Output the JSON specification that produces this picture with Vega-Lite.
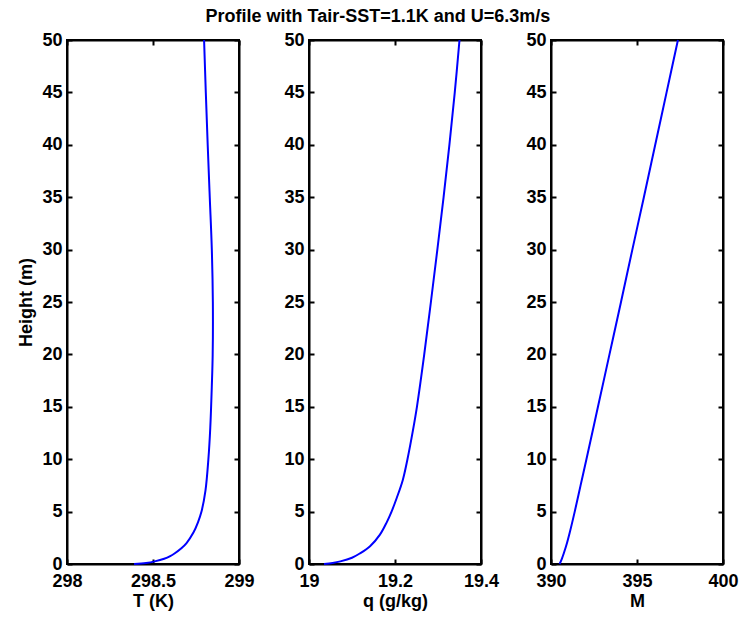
{
  "$schema": "https://vega.github.io/schema/vega-lite/v6.json",
  "autosize": {"type": "pad"},
  "padding": {"left": 16, "top": 8, "right": 0, "bottom": 0},
  "bounds": "flush",
  "spacing": 70,
  "title": {"text": "Profile with Tair-SST=1.1K and U=6.3m/s", "anchor": "middle", "fontSize": 18, "fontWeight": "bold", "font": "Liberation Sans", "color": "black", "offset": 4},
  "config": {
    "font": "Liberation Sans",
    "view": {"stroke": "black", "strokeWidth": 2},
    "axis": {"grid": false, "domainColor": "black", "domainWidth": 2, "tickColor": "black", "tickWidth": 2, "tickSize": -5, "labelFont": "Liberation Sans", "labelFontSize": 18, "labelFontWeight": "bold", "labelColor": "black", "titleFont": "Liberation Sans", "titleFontSize": 18, "titleFontWeight": "bold", "titleColor": "black", "labelFlush": false, "labelOverlap": false}
  },
  "datasets": {
    "T": [
      {"z": 0, "v": 298.39}, {"z": 0.1, "v": 298.46}, {"z": 0.25, "v": 298.51}, {"z": 0.5, "v": 298.565},
      {"z": 0.75, "v": 298.6}, {"z": 1, "v": 298.625}, {"z": 1.5, "v": 298.665}, {"z": 2, "v": 298.695},
      {"z": 3, "v": 298.735}, {"z": 4, "v": 298.762}, {"z": 5, "v": 298.782}, {"z": 7, "v": 298.805},
      {"z": 10, "v": 298.822}, {"z": 13, "v": 298.833}, {"z": 17, "v": 298.842}, {"z": 20, "v": 298.847},
      {"z": 25, "v": 298.848}, {"z": 30, "v": 298.842}, {"z": 35, "v": 298.83}, {"z": 40, "v": 298.818},
      {"z": 45, "v": 298.807}, {"z": 50, "v": 298.797}
    ],
    "q": [
      {"z": 0, "v": 19.035}, {"z": 0.1, "v": 19.055}, {"z": 0.25, "v": 19.073}, {"z": 0.6, "v": 19.1},
      {"z": 1, "v": 19.118}, {"z": 1.7, "v": 19.142}, {"z": 2.8, "v": 19.165}, {"z": 4, "v": 19.181},
      {"z": 5, "v": 19.192}, {"z": 6.3, "v": 19.204}, {"z": 8, "v": 19.218}, {"z": 10, "v": 19.229},
      {"z": 12.7, "v": 19.2415}, {"z": 15, "v": 19.251}, {"z": 20, "v": 19.268}, {"z": 25, "v": 19.2835},
      {"z": 30, "v": 19.2985}, {"z": 35, "v": 19.313}, {"z": 40, "v": 19.3265}, {"z": 45, "v": 19.339},
      {"z": 50, "v": 19.35}
    ],
    "M": [
      {"z": 0, "v": 390.5}, {"z": 0.5, "v": 390.63}, {"z": 1, "v": 390.74}, {"z": 2, "v": 390.93},
      {"z": 3, "v": 391.09}, {"z": 5, "v": 391.38}, {"z": 7.5, "v": 391.72}, {"z": 10, "v": 392.06},
      {"z": 15, "v": 392.73}, {"z": 20, "v": 393.4}, {"z": 25, "v": 394.07}, {"z": 30, "v": 394.73},
      {"z": 35, "v": 395.4}, {"z": 40, "v": 396.06}, {"z": 45, "v": 396.72}, {"z": 50, "v": 397.38}
    ]
  },
  "hconcat": [
    {
      "width": 172, "height": 524,
      "data": {"name": "T"},
      "layer": [
        {"mark": {"type": "line", "color": "#0000ff", "strokeWidth": 2, "interpolate": "catmull-rom"},
         "encoding": {
           "x": {"field": "v", "type": "quantitative", "scale": {"domain": [298, 299], "nice": false, "zero": false}, "axis": {"title": "T (K)", "values": [298, 298.5, 299], "format": ".1~f", "labelPadding": 13, "titlePadding": 2}},
           "y": {"field": "z", "type": "quantitative", "scale": {"domain": [0, 50], "nice": false}, "axis": {"title": "Height (m)", "values": [0, 5, 10, 15, 20, 25, 30, 35, 40, 45, 50], "labelPadding": 10, "titlePadding": 6}},
           "order": {"field": "z"}}},
        {"mark": {"type": "line", "opacity": 0},
         "encoding": {
           "x": {"field": "v", "type": "quantitative", "axis": {"orient": "top", "title": null, "labels": false, "values": [298, 298.5, 299]}},
           "y": {"field": "z", "type": "quantitative", "axis": {"orient": "right", "title": null, "labels": false, "values": [0, 5, 10, 15, 20, 25, 30, 35, 40, 45, 50]}},
           "order": {"field": "z"}}}
      ],
      "resolve": {"axis": {"x": "independent", "y": "independent"}}
    },
    {
      "width": 172, "height": 524,
      "data": {"name": "q"},
      "layer": [
        {"mark": {"type": "line", "color": "#0000ff", "strokeWidth": 2, "interpolate": "catmull-rom"},
         "encoding": {
           "x": {"field": "v", "type": "quantitative", "scale": {"domain": [19, 19.4], "nice": false, "zero": false}, "axis": {"title": "q (g/kg)", "values": [19, 19.2, 19.4], "format": ".1~f", "labelPadding": 13, "titlePadding": 2}},
           "y": {"field": "z", "type": "quantitative", "scale": {"domain": [0, 50], "nice": false}, "axis": {"title": null, "values": [0, 5, 10, 15, 20, 25, 30, 35, 40, 45, 50], "labelPadding": 10}},
           "order": {"field": "z"}}},
        {"mark": {"type": "line", "opacity": 0},
         "encoding": {
           "x": {"field": "v", "type": "quantitative", "axis": {"orient": "top", "title": null, "labels": false, "values": [19, 19.2, 19.4]}},
           "y": {"field": "z", "type": "quantitative", "axis": {"orient": "right", "title": null, "labels": false, "values": [0, 5, 10, 15, 20, 25, 30, 35, 40, 45, 50]}},
           "order": {"field": "z"}}}
      ],
      "resolve": {"axis": {"x": "independent", "y": "independent"}}
    },
    {
      "width": 172, "height": 524,
      "data": {"name": "M"},
      "layer": [
        {"mark": {"type": "line", "color": "#0000ff", "strokeWidth": 2, "interpolate": "catmull-rom"},
         "encoding": {
           "x": {"field": "v", "type": "quantitative", "scale": {"domain": [390, 400], "nice": false, "zero": false}, "axis": {"title": "M", "values": [390, 395, 400], "labelPadding": 13, "titlePadding": 2}},
           "y": {"field": "z", "type": "quantitative", "scale": {"domain": [0, 50], "nice": false}, "axis": {"title": null, "values": [0, 5, 10, 15, 20, 25, 30, 35, 40, 45, 50], "labelPadding": 10}},
           "order": {"field": "z"}}},
        {"mark": {"type": "line", "opacity": 0},
         "encoding": {
           "x": {"field": "v", "type": "quantitative", "axis": {"orient": "top", "title": null, "labels": false, "values": [390, 395, 400]}},
           "y": {"field": "z", "type": "quantitative", "axis": {"orient": "right", "title": null, "labels": false, "values": [0, 5, 10, 15, 20, 25, 30, 35, 40, 45, 50]}},
           "order": {"field": "z"}}}
      ],
      "resolve": {"axis": {"x": "independent", "y": "independent"}}
    }
  ]
}
